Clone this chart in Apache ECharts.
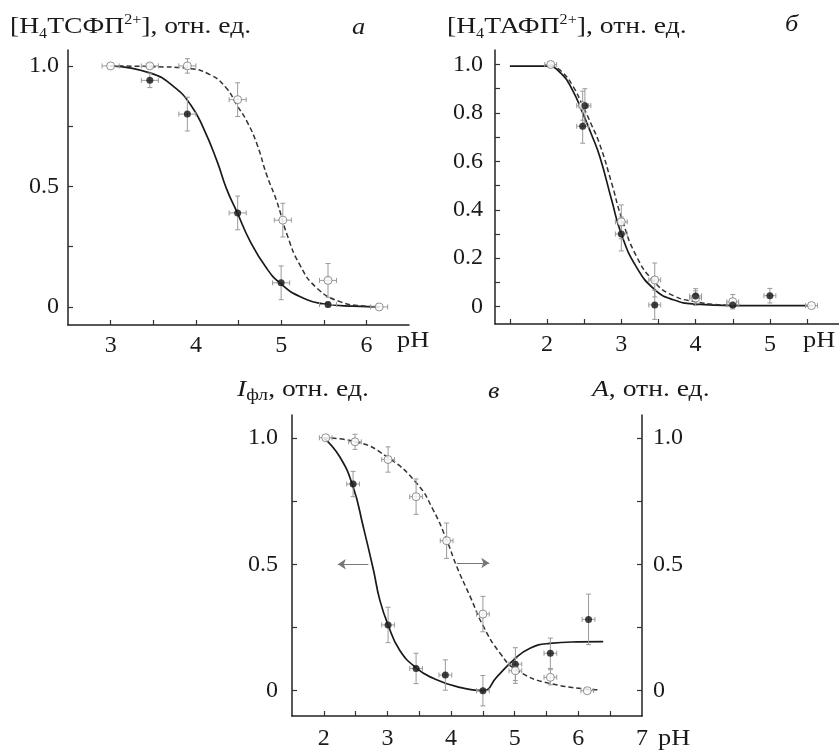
<!DOCTYPE html>
<html>
<head>
<meta charset="utf-8">
<script src="https://cdn.jsdelivr.net/npm/echarts@6/dist/echarts.min.js"></script>
<style>html,body{margin:0;padding:0;background:#fff}#c{width:839px;height:751px}</style>
</head>
<body>
<div id="c"></div>
<script>
// ---------- Panel а : [H4TSFP2+] ----------
const aSolidPH  = [3.0, 3.47, 3.74, 3.94, 4.09, 4.25, 4.36, 4.48, 4.64, 4.83, 4.99, 5.22, 5.53, 5.85, 6.16];
const aSolidVal = [1.0, 0.97, 0.914, 0.838, 0.741, 0.603, 0.49, 0.395, 0.27, 0.16, 0.098, 0.043, 0.011, 0.003, 0.0];
const aDashPH   = [3.0, 3.5, 3.90, 4.17, 4.36, 4.48, 4.60, 4.72, 4.83, 4.95, 5.07, 5.22, 5.42, 5.69, 6.0, 6.15];
const aDashVal  = [1.0, 0.997, 0.99, 0.963, 0.907, 0.838, 0.769, 0.672, 0.548, 0.437, 0.299, 0.174, 0.078, 0.022, 0.003, 0.0];
const aFilledPH  = [3.46, 3.90, 4.49, 5.00, 5.55];
const aFilledVal = [0.94, 0.80, 0.39, 0.10, 0.01];
const aFilledEx  = [0.1, 0.1, 0.1, 0.1, 0.1];
const aFilledEy  = [0.03, 0.07, 0.07, 0.07, 0.01];
const aOpenPH  = [3.0, 3.46, 3.90, 4.49, 5.02, 5.55, 6.15];
const aOpenVal = [1.0, 1.0, 1.0, 0.86, 0.36, 0.11, 0.0];
const aOpenEx  = [0.1, 0.1, 0.1, 0.1, 0.1, 0.1, 0.1];
const aOpenEy  = [0.0, 0.01, 0.03, 0.07, 0.07, 0.07, 0.0];
const aXLabels = [3, 4, 5, 6];
const aXTicks  = [3, 3.5, 4, 4.5, 5, 5.5, 6];
const aYLabels = [0, 0.5, 1.0];
const aYTicks  = [0, 0.25, 0.5, 0.75, 1.0];

// ---------- Panel б : [H4TAFP2+] ----------
const bSolidPH  = [1.5, 2.0, 2.2, 2.35, 2.48, 2.6, 2.71, 2.87, 3.0, 3.2, 3.45, 3.7, 4.0, 4.5, 5.0, 5.56];
const bSolidVal = [0.993, 0.993, 0.96, 0.89, 0.80, 0.71, 0.62, 0.44, 0.30, 0.165, 0.07, 0.028, 0.01, 0.004, 0.004, 0.004];
const bDashPH   = [2.05, 2.2, 2.35, 2.48, 2.6, 2.71, 2.87, 3.0, 3.2, 3.45, 3.7, 4.0, 4.3, 4.6];
const bDashVal  = [1.0, 0.97, 0.91, 0.83, 0.75, 0.67, 0.51, 0.37, 0.21, 0.10, 0.045, 0.02, 0.008, 0.004];
const bFilledPH  = [2.48, 2.51, 3.00, 3.45, 4.00, 4.50, 5.00];
const bFilledVal = [0.745, 0.83, 0.30, 0.007, 0.044, 0.007, 0.045];
const bFilledEx  = [0.08, 0.08, 0.08, 0.08, 0.08, 0.08, 0.08];
const bFilledEy  = [0.07, 0.07, 0.07, 0.06, 0.03, 0.01, 0.03];
const bOpenPH  = [2.05, 2.48, 3.00, 3.45, 4.00, 4.50, 5.56];
const bOpenVal = [1.0, 0.83, 0.35, 0.11, 0.035, 0.02, 0.004];
const bOpenEx  = [0.08, 0.08, 0.08, 0.08, 0.08, 0.08, 0.08];
const bOpenEy  = [0.01, 0.06, 0.07, 0.07, 0.03, 0.03, 0.0];
const bXLabels = [2, 3, 4, 5];
const bXTicks  = [1.5, 2, 2.5, 3, 3.5, 4, 4.5, 5, 5.5];
const bYLabels = [0, 0.2, 0.4, 0.6, 0.8, 1.0];
const bYTicks  = [0, 0.1, 0.2, 0.3, 0.4, 0.5, 0.6, 0.7, 0.8, 0.9, 1.0];

// ---------- Panel в : I_fl (left) and A (right) ----------
const cSolidPH  = [2.0, 2.25, 2.46, 2.62, 2.78, 2.88, 3.01, 3.19, 3.46, 3.72, 4.09, 4.5, 4.72, 4.98, 5.24, 5.55, 6.0, 6.39];
const cSolidVal = [1.0, 0.925, 0.806, 0.648, 0.477, 0.358, 0.26, 0.161, 0.088, 0.049, 0.016, 0.0, 0.055, 0.121, 0.168, 0.187, 0.193, 0.194];
const cDashPH   = [2.0, 2.51, 2.99, 3.46, 3.72, 3.93, 4.09, 4.30, 4.51, 4.77, 5.03, 5.55, 6.34];
const cDashVal  = [1.0, 0.984, 0.925, 0.82, 0.714, 0.596, 0.49, 0.372, 0.253, 0.148, 0.082, 0.029, 0.003];
const cFilledPH  = [2.46, 3.01, 3.45, 3.91, 4.50, 5.01, 5.56, 6.16];
const cFilledVal = [0.817, 0.26, 0.088, 0.062, 0.0, 0.105, 0.148, 0.282];
const cFilledEx  = [0.1, 0.1, 0.1, 0.1, 0.1, 0.1, 0.1, 0.1];
const cFilledEy  = [0.05, 0.07, 0.06, 0.06, 0.06, 0.065, 0.06, 0.1];
const cOpenPH  = [2.03, 2.49, 3.01, 3.45, 3.93, 4.50, 5.01, 5.56, 6.14];
const cOpenVal = [1.0, 0.984, 0.914, 0.767, 0.593, 0.303, 0.079, 0.053, 0.0];
const cOpenEx  = [0.1, 0.1, 0.1, 0.1, 0.1, 0.1, 0.1, 0.1, 0.1];
const cOpenEy  = [0.0, 0.03, 0.05, 0.07, 0.07, 0.07, 0.05, 0.03, 0.0];
const cArrows  = [[2.70, 2.22, 0.50], [4.09, 4.60, 0.505]]; // [fromPH, toPH, level]
const cXLabels = [2, 3, 4, 5, 6, 7];
const cXTicks  = [2, 2.5, 3, 3.5, 4, 4.5, 5, 5.5, 6, 6.5];
const cYLabels = [0, 0.5, 1.0];
const cYTicks  = [0, 0.25, 0.5, 0.75, 1.0];

// ---------- build ----------
const FONT = 'Liberation Serif';
const zip = (xs, ys) => xs.map((x, i) => [x, ys[i]]);
const zip4 = (xs, ys, ex, ey) => xs.map((x, i) => [x, ys[i], ex[i], ey[i]]);
const fmtY = v => (v === 0 ? '0' : v.toFixed(1));
const fmtX = v => String(Math.round(v));

function axis(kind, gridIndex, min, max, labels, ticks, margin, position) {
  const a = {
    type: 'value', gridIndex, min, max,
    axisLine: { show: true, onZero: false, lineStyle: { color: '#222', width: 1.5 } },
    axisTick: { show: true, inside: true, length: 5, customValues: ticks, lineStyle: { color: '#333', width: 1.2 } },
    axisLabel: { show: true, customValues: labels, margin, fontFamily: FONT, fontSize: 24, color: '#1a1a1a',
                 formatter: kind === 'x' ? fmtX : fmtY },
    splitLine: { show: false }, minorTick: { show: false }
  };
  if (position) a.position = position;
  return a;
}

function errRender(params, api) {
  const x = api.value(0), y = api.value(1), ex = api.value(2), ey = api.value(3);
  const l = api.coord([x - ex, y]), r = api.coord([x + ex, y]);
  const t = api.coord([x, y + ey]), b = api.coord([x, y - ey]);
  const cap = 2.5;
  const st = { stroke: '#9a9a9a', lineWidth: 1 };
  const ch = [
    { type: 'line', shape: { x1: l[0], y1: l[1], x2: r[0], y2: r[1] }, style: st },
    { type: 'line', shape: { x1: l[0], y1: l[1] - cap, x2: l[0], y2: l[1] + cap }, style: st },
    { type: 'line', shape: { x1: r[0], y1: r[1] - cap, x2: r[0], y2: r[1] + cap }, style: st }
  ];
  if (ey > 0) {
    ch.push({ type: 'line', shape: { x1: t[0], y1: t[1], x2: b[0], y2: b[1] }, style: st });
    ch.push({ type: 'line', shape: { x1: t[0] - cap, y1: t[1], x2: t[0] + cap, y2: t[1] }, style: st });
    ch.push({ type: 'line', shape: { x1: b[0] - cap, y1: b[1], x2: b[0] + cap, y2: b[1] }, style: st });
  }
  return { type: 'group', children: ch };
}

function curve(xi, yi, xs, ys, dashed) {
  return {
    type: 'line', xAxisIndex: xi, yAxisIndex: yi, data: zip(xs, ys), smooth: 0.5,
    symbol: 'none', showSymbol: false, silent: true, z: 2,
    lineStyle: dashed ? { color: '#333', width: 1.5, type: [5, 3] } : { color: '#1a1a1a', width: 1.7 }
  };
}
function errs(xi, yi, d) {
  return { type: 'custom', xAxisIndex: xi, yAxisIndex: yi, data: d, renderItem: errRender,
    encode: { x: 0, y: 1 }, z: 3, silent: true };
}
function pts(xi, yi, xs, ys, open) {
  return {
    type: 'scatter', xAxisIndex: xi, yAxisIndex: yi, data: zip(xs, ys), symbol: 'circle',
    symbolSize: open ? 8 : 7, z: 5, silent: true,
    itemStyle: open ? { color: '#fff', borderColor: '#777', borderWidth: 1 } : { color: '#111' }
  };
}

const arrowSeries = curve(2, 2, cSolidPH, cSolidVal, false);
arrowSeries.markLine = {
  silent: true, symbol: ['none', 'arrow'], symbolSize: 8, label: { show: false },
  lineStyle: { color: '#777', width: 1, type: 'solid' },
  emphasis: { disabled: true },
  data: cArrows.map(a => [{ coord: [a[0], a[2]] }, { coord: [a[1], a[2]] }])
};

function title(x, y, text, rich, scale) {
  return {
    type: 'text', x, y, scaleX: scale || 1.15, silent: true,
    style: {
      text, fontFamily: FONT, fontSize: 24, lineHeight: 28, fill: '#1a1a1a',
      textAlign: 'left', textVerticalAlign: 'middle', rich
    }
  };
}
const richSS = {
  sub: { fontFamily: FONT, fontSize: 14, lineHeight: 12, verticalAlign: 'bottom', fill: '#1a1a1a' },
  sup: { fontFamily: FONT, fontSize: 14, lineHeight: 14, verticalAlign: 'top', fill: '#1a1a1a' },
  it:  { fontFamily: FONT, fontSize: 24, lineHeight: 28, fontStyle: 'italic', fill: '#1a1a1a' },
  subl:{ fontFamily: FONT, fontSize: 17, lineHeight: 15, verticalAlign: 'bottom', fill: '#1a1a1a' }
};

const option = {
  animation: false,
  backgroundColor: '#fff',
  grid: [
    { left: 68, top: 50, width: 341, height: 275 },
    { left: 495, top: 50, width: 344, height: 274 },
    { left: 292, top: 415, width: 350, height: 301 }
  ],
  xAxis: [
    axis('x', 0, 2.5, 6.5, aXLabels, aXTicks, 9),
    axis('x', 1, 1.3, 5.93, bXLabels, bXTicks, 9),
    axis('x', 2, 1.5, 7.0, cXLabels, cXTicks, 11)
  ],
  yAxis: [
    axis('y', 0, -0.075, 1.066, aYLabels, aYTicks, 9),
    axis('y', 1, -0.072, 1.06, bYLabels, bYTicks, 12),
    axis('y', 2, -0.1, 1.09, cYLabels, cYTicks, 14, 'left'),
    axis('y', 2, -0.1, 1.09, cYLabels, cYTicks, 11, 'right')
  ],
  series: [
    errs(0, 0, zip4(aFilledPH, aFilledVal, aFilledEx, aFilledEy)),
    errs(0, 0, zip4(aOpenPH, aOpenVal, aOpenEx, aOpenEy)),
    curve(0, 0, aSolidPH, aSolidVal, false),
    curve(0, 0, aDashPH, aDashVal, true),
    pts(0, 0, aFilledPH, aFilledVal, false),
    pts(0, 0, aOpenPH, aOpenVal, true),

    errs(1, 1, zip4(bFilledPH, bFilledVal, bFilledEx, bFilledEy)),
    errs(1, 1, zip4(bOpenPH, bOpenVal, bOpenEx, bOpenEy)),
    curve(1, 1, bSolidPH, bSolidVal, false),
    curve(1, 1, bDashPH, bDashVal, true),
    pts(1, 1, bOpenPH, bOpenVal, true),
    pts(1, 1, bFilledPH, bFilledVal, false),

    errs(2, 2, zip4(cFilledPH, cFilledVal, cFilledEx, cFilledEy)),
    errs(2, 3, zip4(cOpenPH, cOpenVal, cOpenEx, cOpenEy)),
    arrowSeries,
    curve(2, 3, cDashPH, cDashVal, true),
    pts(2, 2, cFilledPH, cFilledVal, false),
    pts(2, 3, cOpenPH, cOpenVal, true)
  ],
  graphic: [
    title(10, 27, '[H{sub|4}ТСФП{sup|2+}], отн. ед.', richSS),
    title(352, 28, '{it|а}', richSS, 1.1),
    title(447, 27, '[H{sub|4}ТАФП{sup|2+}], отн. ед.', richSS),
    title(785, 25, '{it|б}', richSS, 1.1),
    title(237, 390, '{it|I}{subl|фл}, отн. ед.', richSS),
    title(488, 392, '{it|в}', richSS, 1.1),
    title(592, 390, '{it|A}, отн. ед.', richSS),
    title(397, 341, 'pH', richSS, 1.1),
    title(803, 341, 'pH', richSS, 1.1),
    title(658, 739, 'pH', richSS, 1.1)
  ]
};
echarts.init(document.getElementById('c')).setOption(option);
</script>
</body>
</html>
